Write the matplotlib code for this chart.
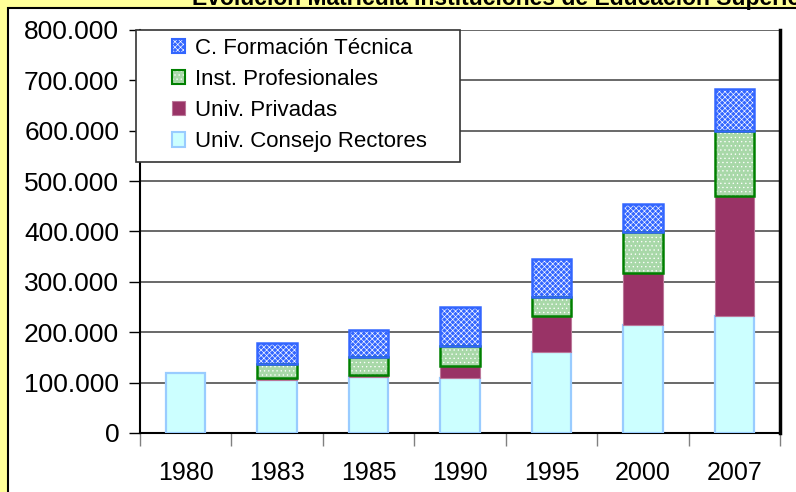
import matplotlib
matplotlib.use("Agg")
import matplotlib.pyplot as plt
from matplotlib.patches import Patch, Rectangle
from matplotlib.ticker import FuncFormatter, FixedLocator
import numpy as np

plt.rcParams['font.family'] = ['Liberation Sans', 'DejaVu Sans']
plt.rcParams['hatch.linewidth'] = 0.45

# data (matricula por tipo de institucion)
years = ["1980", "1983", "1985", "1990", "1995", "2000", "2007"]
consejo_rectores = [119500, 105500, 110500, 110000, 161500, 214000, 231500]
privadas = [0, 4000, 4500, 23000, 70500, 104000, 239500]
profesionales = [0, 27500, 36000, 39500, 38000, 81000, 128000]
formacion_tecnica = [0, 42000, 53500, 78000, 76000, 55000, 83000]

labels = ["C. Formación Técnica", "Inst. Profesionales",
          "Univ. Privadas", "Univ. Consejo Rectores"]

fig = plt.figure(figsize=(7.96, 4.92), dpi=100)
fig.patch.set_facecolor('#FFFF99')
# white panel with black border, running off the right/bottom edges
fig.patches.append(Rectangle((8/796, -0.1), 1.2, 1.1 - 8/492,
                             transform=fig.transFigure, facecolor='white',
                             edgecolor='black', linewidth=1.5, zorder=-10))
fig.text(192/796, 1 - 5/492, "Evolución Matrícula Instituciones de Educación Superior",
         fontsize=16.5, fontweight='bold', ha='left', va='baseline', zorder=-5)

ax = fig.add_axes([140/796, 59/492, 640/796, 403/492])
ax.set_facecolor('white')

x = np.arange(len(years))
w = 0.43
b1 = np.array(consejo_rectores)
b2 = b1 + np.array(privadas)
b3 = b2 + np.array(profesionales)


def lw(vals, width):
    # no outline on empty segments
    return [width if v > 0 else 0 for v in vals]


ax.bar(x, consejo_rectores, w, color='#CCFFFF', edgecolor='#99CCFF',
       linewidth=lw(consejo_rectores, 1.6), zorder=3)
ax.bar(x, privadas, w, bottom=b1, color='#993366', edgecolor='#BB7799',
       linewidth=lw(privadas, 0.8), zorder=3)
# hatched segments: pattern layer, then outline layer
ax.bar(x, profesionales, w, bottom=b2, color='#A8D8A8', edgecolor='white', hatch='....',
       linewidth=0, zorder=3)
ax.bar(x, profesionales, w, bottom=b2, fill=False, edgecolor='#008000',
       linewidth=lw(profesionales, 1.8), zorder=4)
ax.bar(x, formacion_tecnica, w, bottom=b3, color='#3366FF', edgecolor='white', hatch='xxxxxx',
       linewidth=0, zorder=3)
ax.bar(x, formacion_tecnica, w, bottom=b3, fill=False, edgecolor='#3366FF',
       linewidth=lw(formacion_tecnica, 1.8), zorder=4)

ax.set_xlim(-0.5, len(years) - 0.5)
ax.set_ylim(0, 800000)
ax.set_yticks(np.arange(0, 800001, 100000))
ax.yaxis.set_major_formatter(FuncFormatter(lambda v, p: f"{int(v):,}".replace(",", ".")))
ax.set_xticks(x)
ax.set_xticklabels(years)
ax.xaxis.set_minor_locator(FixedLocator(np.arange(-0.5, len(years), 1)))
ax.tick_params(axis='x', which='major', length=0, pad=20, labelsize=18)
ax.tick_params(axis='x', which='minor', length=9, width=1, color='#808080', direction='out')
ax.tick_params(axis='y', length=8, width=1, pad=7, labelsize=19, direction='out')

ax.grid(axis='y', color='#404040', linewidth=1.1, zorder=1)
ax.set_axisbelow(True)
ax.spines['top'].set_visible(False)
ax.spines['left'].set_linewidth(1.5)
ax.spines['bottom'].set_linewidth(1.5)
ax.spines['right'].set_linewidth(2.5)
for s in ax.spines.values():
    s.set_color('black')

# legend with its own frame
ax.add_patch(Rectangle((-4/640, 1 - 132/403), 324/640, 132/403, transform=ax.transAxes,
                       facecolor='white', edgecolor='#333333', linewidth=1.2,
                       zorder=5, clip_on=False))
handles = [
    (Patch(facecolor='#3366FF', edgecolor='white', hatch='xxxxxx', linewidth=0),
     Patch(fill=False, edgecolor='#3366FF', linewidth=1.5)),
    (Patch(facecolor='#A8D8A8', edgecolor='white', hatch='....', linewidth=0),
     Patch(fill=False, edgecolor='#008000', linewidth=1.5)),
    Patch(facecolor='#993366', edgecolor='#BB7799', linewidth=0.8),
    Patch(facecolor='#CCFFFF', edgecolor='#99CCFF', linewidth=1.5),
]
leg = ax.legend(handles, labels, loc='upper left', bbox_to_anchor=(26/640, 1 - 2/403),
                frameon=False, fontsize=16, handlelength=0.62, handleheight=0.62,
                handletextpad=0.45, labelspacing=0.46, borderpad=0.25, borderaxespad=0)
leg.set_zorder(6)

fig.savefig("out.png", dpi=100, facecolor=fig.get_facecolor())
